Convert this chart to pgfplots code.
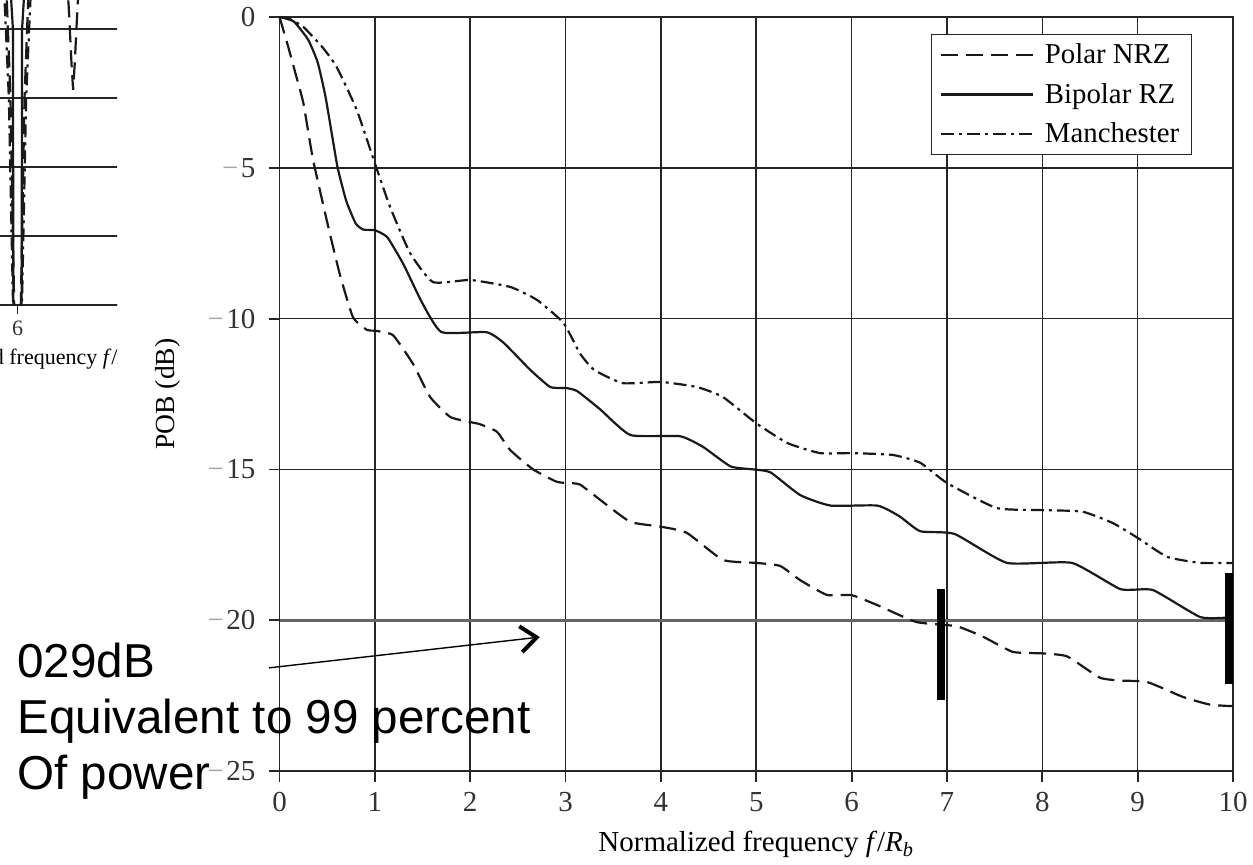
\documentclass[border=0pt]{standalone}
\usepackage{pgfplots}
\pgfplotsset{compat=1.18}
\usepackage{fontspec}
\setmainfont{Liberation Serif}
\newfontfamily\arial{Liberation Sans}
\usetikzlibrary{arrows.meta}
\newcommand{\gm}{\textcolor{black!35}{−}\kern1.2pt}
\newcommand{\tfont}{\fontsize{14.5}{17}\selectfont}
\newcommand{\sfont}{\fontsize{11}{13}\selectfont}
\begin{document}
\begin{tikzpicture}
\useasboundingbox (0pt,0pt) rectangle (626.5pt,432pt);

% cropped neighbouring figure on the left
\begin{scope}
\clip (0pt,246pt) rectangle (58.5pt,432pt);
\begin{axis}[
  scale only axis, width=82.35pt, height=172.5pt,
  at={(-7.45pt,279.5pt)}, anchor=south west,
  xmin=5.4, xmax=8.45, ymin=-40, ymax=10,
  xtick={6}, xticklabels={6},
  ytick={-40,-30,-20,-10,0,10}, yticklabels={},
  ymajorgrids, grid style={black!85,line width=0.8pt},
  axis line style={black!85,line width=0.8pt},
  xtick pos=left, ytick pos=left,
  tick align=outside, major tick length=4.5pt,
  major tick style={black!85, line width=0.9pt},
  ytick style={draw=none},
  ticklabel style={font=\sfont, text=black!80},
  xlabel={\llap{Normalized }frequency \textit{f}/\textit{R}\textsubscript{\textit{b}}},
  xlabel style={at={(axis description cs:0,0)}, anchor=base west, xshift=11.95pt, yshift=-29.5pt, font=\sfont, inner sep=0pt},
  clip=true,
]
\addplot[black!90, line width=1.1pt] coordinates {(5.80,15) (5.915,0) (5.925,-45) (6.075,-45) (6.085,0) (6.20,15)};
\addplot[black!90, line width=1.1pt, dash pattern=on 8.5pt off 4pt] coordinates {(5.75,15) (5.87,-10) (5.95,-45) (6.05,-45) (6.13,-10) (6.25,15)};
\addplot[black!90, line width=1.1pt, dash pattern=on 6.5pt off 2.5pt on 1.5pt off 2.5pt] coordinates {(5.70,15) (5.84,-10) (5.93,-45) (6.07,-45) (6.16,-10) (6.30,15)};
\addplot[black!90, line width=1.1pt, dash pattern=on 8.5pt off 4pt] coordinates {(6.85,15) (6.95,3) (7.0,-5) (7.03,-8.8) (7.06,-5) (7.11,3) (7.2,15)};
\end{axis}
\end{scope}

\begin{axis}[
  scale only axis, width=476.75pt, height=377pt,
  at={(139.75pt,46.5pt)}, anchor=south west,
  xmin=0, xmax=10, ymin=-25, ymax=0,
  xtick={0,1,2,3,4,5,6,7,8,9,10}, xticklabels={0,1,2,3,4,5,6,7,8,9,10},
  ytick={-25,-20,-15,-10,-5,0}, yticklabels={{\gm25},{\gm20},{\gm15},{\gm10},{\gm5},0},
  grid=major, grid style={black!85,line width=0.8pt},
  axis line style={black!85,line width=0.8pt},
  xtick pos=left, ytick pos=left,
  tick align=outside, major tick length=5.5pt,
  major tick style={black!85, line width=0.9pt},
  ticklabel style={font=\tfont, text=black!80},
  yticklabel style={xshift=-3pt},
  xticklabel style={yshift=-1.5pt},
  xlabel={Normalized frequency \textit{f}/\textit{R}\textsubscript{\textit{b}}},
  ylabel={POB (dB)},
  xlabel style={at={(axis description cs:0.5,-0.1074)}, anchor=base, font=\tfont},
  ylabel style={at={(axis description cs:-0.1169,0.5)}, anchor=center, font=\fontsize{13.8}{16}\selectfont},
  clip=false,
  legend cell align=left,
  legend image code/.code={\draw[#1] (0pt,0pt) -- (46pt,0pt);},
  legend style={at={(0.957,0.9775)}, anchor=north east, draw=black!85, line width=0.7pt,
    font=\fontsize{14.4}{17}\selectfont, inner xsep=4pt, inner ysep=2.5pt, row sep=4.2pt,
    /tikz/every odd column/.append style={column sep=3.5pt}},
]
\addplot[forget plot, black!60, line width=1.6pt] coordinates {(0,-20) (10,-20)};

\addplot[black!90, line width=1.1pt, dash pattern=on 8.5pt off 4pt, smooth, tension=0.3] coordinates {
 (0,0) (0.08,-0.86) (0.17,-1.9) (0.25,-2.85) (0.35,-4.7) (0.5,-6.8) (0.63,-8.5) (0.77,-9.95)
 (0.92,-10.38) (1.0,-10.4) (1.19,-10.55) (1.4,-11.5) (1.58,-12.6) (1.79,-13.26) (2.0,-13.43)
 (2.1,-13.5) (2.28,-13.75) (2.42,-14.36) (2.66,-15.0) (2.9,-15.4) (3.0,-15.45) (3.15,-15.5)
 (3.4,-16.1) (3.68,-16.74) (4.0,-16.9) (4.27,-17.1) (4.65,-18.0) (5.0,-18.1) (5.25,-18.2)
 (5.46,-18.67) (5.74,-19.16) (6.0,-19.17) (6.27,-19.5) (6.68,-20.06) (7.1,-20.2) (7.38,-20.55)
 (7.69,-21.05) (8.0,-21.1) (8.26,-21.2) (8.6,-21.9) (8.81,-22.0) (9.1,-22.05) (9.48,-22.55)
 (9.76,-22.8) (10,-22.85)};
\addlegendentry{Polar NRZ}

\addplot[black!90, line width=1.1pt, smooth, tension=0.3] coordinates {
 (0,0) (0.15,-0.15) (0.3,-0.75) (0.4,-1.5) (0.48,-2.6) (0.55,-3.9) (0.61,-5.0) (0.7,-6.1)
 (0.8,-6.85) (0.88,-7.05) (1.0,-7.07) (1.13,-7.3) (1.3,-8.2) (1.5,-9.5) (1.7,-10.45)
 (2.17,-10.45) (2.35,-10.8) (2.63,-11.7) (2.84,-12.27) (3.0,-12.3) (3.12,-12.4) (3.36,-13.0)
 (3.68,-13.86) (4.2,-13.9) (4.44,-14.25) (4.73,-14.9) (4.97,-15.0) (5.15,-15.1) (5.46,-15.85)
 (5.78,-16.2) (6.27,-16.2) (6.5,-16.55) (6.72,-17.05) (7.08,-17.14) (7.63,-18.1) (8.31,-18.1)
 (8.82,-18.97) (9.16,-19.0) (9.66,-19.9) (10,-19.9)};
\addlegendentry{Bipolar RZ}

\addplot[black!90, line width=1.1pt, dash pattern=on 6.5pt off 2.5pt on 1.5pt off 2.5pt, smooth, tension=0.3] coordinates {
 (0,0) (0.1,-0.05) (0.25,-0.33) (0.45,-1.0) (0.6,-1.66) (0.81,-3.08) (1.0,-4.85) (1.16,-6.3)
 (1.37,-7.83) (1.61,-8.79) (2.0,-8.72) (2.42,-8.95) (2.7,-9.38) (2.98,-10.15) (3.15,-11.15)
 (3.3,-11.7) (3.6,-12.14) (4.0,-12.1) (4.38,-12.27) (4.65,-12.6) (5.0,-13.47) (5.33,-14.13)
 (5.67,-14.46) (6.0,-14.46) (6.43,-14.52) (6.72,-14.78) (7.0,-15.45) (7.52,-16.28) (8.0,-16.35)
 (8.42,-16.4) (8.74,-16.78) (9.0,-17.27) (9.31,-17.9) (9.66,-18.1) (10,-18.1)};
\addlegendentry{Manchester}

\addplot[forget plot, black, line width=4pt] coordinates {(6.937,-18.97) (6.937,-22.65)};
\addplot[forget plot, black, line width=4pt] coordinates {(9.958,-18.44) (9.958,-22.12)};
\addplot[forget plot, black, line width=0.7pt, -{Straight Barb[length=8pt,width=13pt,line width=2pt]}] coordinates {(-0.11,-21.58) (2.73,-20.56)};
\end{axis}

\node[anchor=base west, inner sep=0pt, font=\arial\fontsize{23.8}{28}\selectfont] at (8.5pt,93.5pt) {029dB};
\node[anchor=base west, inner sep=0pt, font=\arial\fontsize{23.8}{28}\selectfont] at (8.5pt,65.5pt) {Equivalent to 99 percent};
\node[anchor=base west, inner sep=0pt, font=\arial\fontsize{23.8}{28}\selectfont] at (8.5pt,37.5pt) {Of power};
\end{tikzpicture}
\end{document}
